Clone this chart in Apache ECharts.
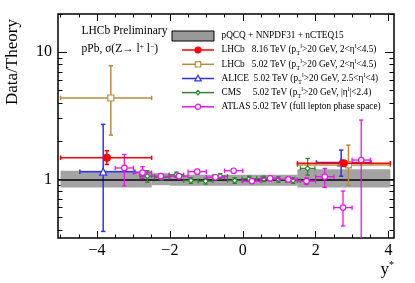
<!DOCTYPE html>
<html><head><meta charset="utf-8">
<script src="https://cdn.jsdelivr.net/npm/echarts@6/dist/echarts.min.js"></script>
<style>html,body{margin:0;padding:0;background:#fff}#c{width:415px;height:283px}</style>
</head><body><div id="c"></div>
<script>
// ---- axis ranges / ticks ----
const X_MIN = -5.07, X_MAX = 4.15;
const Y_MIN = 0.346, Y_MAX = 20;
const xTickLabels = [-4, -2, 0, 2, 4];
const xMinorTicks = [-5, -4.5, -3.5, -3, -2.5, -1.5, -1, -0.5, 0.5, 1, 1.5, 2.5, 3, 3.5];
const yTickLabels = [1, 10];
const yMinorTicks = [0.4, 0.5, 0.6, 0.7, 0.8, 0.9, 2, 3, 4, 5, 6, 7, 8, 9, 20];

// ---- theory band: [x0, x1, lo, hi] ----
const theoryBand = [
  [-5.0, -2.5, 0.865, 1.17],
  [-2.5, -2.0, 0.90, 1.12],
  [-2.0, 1.5, 0.89, 1.09],
  [1.5, 4.05, 0.865, 1.20]
];
// ---- data rows: [x, y, xlo, xhi, ylo, yhi] ----
const lhcb816 = [
  [-3.73, 1.48, -5.0, -2.5, 1.31, 1.68],
  [2.77, 1.34, 1.5, 4.05, 1.27, 1.40]
];
const lhcb502 = [
  [-3.62, 4.37, -5.0, -2.5, 2.23, 7.84],
  [2.90, 1.30, 1.5, 4.05, 0.90, 1.86]
];
const alice = [
  [-3.83, 1.15, -4.47, -2.96, 0.39, 2.71],
  [2.70, 1.36, 2.02, 3.52, 1.06, 1.70]
];
const cms = [
  [-2.62, 1.06, -2.82, -2.42, 0.95, 1.17],
  [-2.22, 1.04, -2.42, -2.02, 0.99, 1.09],
  [-1.82, 1.09, -2.02, -1.62, 1.04, 1.14],
  [-1.42, 0.98, -1.62, -1.22, 0.93, 1.03],
  [-1.02, 0.97, -1.22, -0.82, 0.92, 1.02],
  [-0.62, 1.06, -0.82, -0.42, 1.01, 1.11],
  [-0.22, 0.98, -0.42, -0.02, 0.93, 1.03],
  [0.18, 1.01, -0.02, 0.38, 0.96, 1.06],
  [0.58, 1.01, 0.38, 0.78, 0.96, 1.06],
  [0.98, 1.00, 0.78, 1.18, 0.95, 1.05],
  [1.38, 0.98, 1.18, 1.58, 0.93, 1.03],
  [1.78, 1.22, 1.58, 1.98, 1.08, 1.46]
];
const atlas = [
  [-3.25, 1.23, -3.5, -3.0, 0.89, 1.57],
  [-2.75, 1.13, -3.0, -2.5, 1.02, 1.26],
  [-2.25, 1.06, -2.5, -2.0, 1.01, 1.11],
  [-1.75, 1.06, -2.0, -1.5, 1.02, 1.10],
  [-1.25, 1.15, -1.5, -1.0, 1.11, 1.19],
  [-0.75, 1.04, -1.0, -0.5, 1.00, 1.08],
  [-0.25, 1.17, -0.5, 0.0, 1.13, 1.21],
  [0.25, 0.97, 0.0, 0.5, 0.93, 1.01],
  [0.75, 1.02, 0.5, 1.0, 0.98, 1.06],
  [1.25, 1.00, 1.0, 1.5, 0.96, 1.04],
  [1.75, 0.97, 1.5, 2.0, 0.91, 1.03],
  [2.25, 1.05, 2.0, 2.5, 0.865, 1.22],
  [2.75, 0.60, 2.5, 3.0, 0.43, 0.81],
  [3.25, 1.42, 3.0, 3.5, 0.30, 2.93]
];

const SERIF = '"Liberation Serif", "DejaVu Serif", serif';
const C_RED = '#ff0000', C_BRN = '#b98c3d', C_BLU = '#3030ff', C_GRN = '#2c862c', C_MAG = '#ee11ee', C_BAND = '#a3a3a3';

function mkX(pos, ticks, len, labels) {
  return {
    type: 'value', min: X_MIN, max: X_MAX, position: pos,
    splitLine: {show: false}, axisLine: {show: false, onZero: false},
    axisTick: {show: true, inside: true, length: len, customValues: ticks, lineStyle: {color: '#000', width: 1}},
    axisLabel: {show: labels, customValues: xTickLabels, margin: 5,
      formatter: v => (v < 0 ? '\u2212' + Math.abs(v) : String(v)),
      fontFamily: SERIF, fontSize: 16, color: '#000'}
  };
}
function mkY(pos, ticks, len, labels) {
  return {
    type: 'log', logBase: 10, min: Y_MIN, max: Y_MAX, position: pos,
    splitLine: {show: false}, axisLine: {show: false, onZero: false},
    axisTick: {show: true, inside: true, length: len, customValues: ticks, lineStyle: {color: '#000', width: 1}},
    axisLabel: {show: labels, customValues: yTickLabels, margin: 6,
      fontFamily: SERIF, fontSize: 16, color: '#000'}
  };
}

function errRender(color, lw) {
  return function (params, api) {
    const x = api.value(0), y = api.value(1);
    const c = api.coord([x, y]);
    const xl = api.coord([api.value(2), y])[0], xh = api.coord([api.value(3), y])[0];
    const yl = api.coord([x, api.value(4)])[1], yh = api.coord([x, api.value(5)])[1];
    const st = {stroke: color, lineWidth: lw};
    const cap = 2.2;
    const L = (x1, y1, x2, y2) => ({type: 'line', shape: {x1, y1, x2, y2}, style: st});
    return {type: 'group', children: [
      L(xl, c[1], xh, c[1]),
      L(c[0], yl, c[0], yh),
      L(xl, c[1] - cap, xl, c[1] + cap),
      L(xh, c[1] - cap, xh, c[1] + cap),
      L(c[0] - cap, yl, c[0] + cap, yl),
      L(c[0] - cap, yh, c[0] + cap, yh)
    ]};
  };
}
function errSeries(data, color, lw, z) {
  return {type: 'custom', data: data, renderItem: errRender(color, lw), clip: true, z: z, silent: true,
    encode: {x: [0, 2, 3], y: [1, 4, 5]}};
}
function markSeries(data, color, symbol, size, filled, z) {
  return {type: 'scatter', data: data.map(r => [r[0], r[1]]), symbol: symbol, symbolSize: size, z: z + 1, silent: true,
    itemStyle: {color: filled ? color : '#fff', borderColor: color, borderWidth: 1.2, opacity: 1}};
}

const legendRows = [
  {y: 50, color: C_RED, text: 'LHCb   8.16 TeV (p{b|T}{t|l}>20 GeV, 2<\u03b7{t|l}<4.5)'},
  {y: 64.3, color: C_BRN, text: 'LHCb   5.02 TeV (p{b|T}{t|l}>20 GeV, 2<\u03b7{t|l}<4.5)'},
  {y: 78.5, color: C_BLU, text: 'ALICE  5.02 TeV (p{b|T}{t|l}>20 GeV, 2.5<\u03b7{t|l}<4)'},
  {y: 92.6, color: C_GRN, text: 'CMS     5.02 TeV (p{b|T}{t|l}>20 GeV, |\u03b7{t|l}|<2.4)'},
  {y: 106.8, color: C_MAG, text: 'ATLAS 5.02 TeV (full lepton phase space)'}
];
const legRich = {t: {fontSize: 6.5, fontFamily: SERIF, verticalAlign: 'top', lineHeight: 10}, b: {fontSize: 6.5, fontFamily: SERIF, verticalAlign: 'bottom', lineHeight: 14}};
const graphics = [];
graphics.push({type: 'rect', shape: {x: 172, y: 31, width: 42, height: 10}, style: {fill: '#999', stroke: '#000', lineWidth: 1}});
graphics.push({type: 'text', x: 221.5, y: 36, style: {text: 'pQCQ + NNPDF31 + nCTEQ15', font: '9.3px ' + SERIF, fill: '#000', align: 'left', verticalAlign: 'middle'}});
const markerShapes = [
  {type: 'circle', shape: {cx: 198, cy: 0, r: 3}, filled: true},
  {type: 'rect', shape: {x: 195.3, y: -2.7, width: 5.4, height: 5.4}},
  {type: 'polygon', shape: {points: [[198, -3.2], [201.2, 2.4], [194.8, 2.4]]}},
  {type: 'polygon', shape: {points: [[198, -2.2], [200, 0], [198, 2.2], [196, 0]]}},
  {type: 'circle', shape: {cx: 198, cy: 0, r: 2.6}}
];
legendRows.forEach((r, i) => {
  graphics.push({type: 'line', x: 0, y: 0, shape: {x1: 182, y1: r.y, x2: 214, y2: r.y}, style: {stroke: r.color, lineWidth: 1.5}});
  const m = markerShapes[i];
  graphics.push({type: m.type, x: 0, y: r.y, shape: m.shape, style: {fill: m.filled ? r.color : '#fff', stroke: r.color, lineWidth: 1.2}});
  graphics.push({type: 'text', x: 221.5, y: r.y, style: {text: r.text, rich: legRich, fontSize: 9.3, fontFamily: SERIF, fill: '#000', align: 'left', verticalAlign: 'middle'}});
});
graphics.push({type: 'text', x: 81.5, y: 31, style: {text: 'LHCb Preliminary', font: '11.5px ' + SERIF, fill: '#000', verticalAlign: 'middle'}});
graphics.push({type: 'text', x: 81.5, y: 49, style: {text: 'pPb, \u03c3(Z\u2192 l{s|+} l{s|\u2212})', fontSize: 11.5, fontFamily: SERIF, fill: '#000', verticalAlign: 'middle',
  rich: {s: {fontSize: 7.5, fontFamily: SERIF, verticalAlign: 'top', lineHeight: 12}}}});
graphics.push({type: 'text', x: 13, y: 62, rotation: Math.PI / 2, style: {text: 'Data/Theory', font: '17px ' + SERIF, fill: '#000', align: 'center', verticalAlign: 'middle'}});
graphics.push({type: 'text', x: 394, y: 270, style: {text: 'y{s|*}', fontSize: 17, fontFamily: SERIF, fill: '#000', align: 'right', verticalAlign: 'middle',
  rich: {s: {fontSize: 10, fontFamily: SERIF, verticalAlign: 'top', lineHeight: 20}}}});

const option = {
  animation: false,
  grid: {left: 58, right: 21, top: 14, bottom: 45, show: true, borderColor: '#000', borderWidth: 1.5, backgroundColor: 'transparent', containLabel: false},
  xAxis: [
    mkX('bottom', xTickLabels, 7, true),
    mkX('bottom', xMinorTicks, 3.5, false),
    mkX('top', xTickLabels, 7, false),
    mkX('top', xMinorTicks, 3.5, false)
  ],
  yAxis: [
    mkY('left', yTickLabels, 9, true),
    mkY('left', yMinorTicks, 4.5, false),
    mkY('right', yTickLabels, 9, false),
    mkY('right', yMinorTicks, 4.5, false)
  ],
  graphic: graphics,
  series: [
    {type: 'custom', data: theoryBand, clip: true, z: 1, silent: true,
      encode: {x: [0, 1], y: [2, 3]},
      renderItem: (p, api) => {
        const a = api.coord([api.value(0), api.value(3)]);
        const b = api.coord([api.value(1), api.value(2)]);
        return {type: 'rect', shape: {x: a[0], y: a[1], width: b[0] - a[0], height: b[1] - a[1]}, style: {fill: C_BAND}};
      }},
    {type: 'scatter', data: [], z: 2, silent: true,
      markLine: {silent: true, symbol: 'none', label: {show: false}, animation: false,
        lineStyle: {color: '#000', width: 1.5, type: 'solid'}, data: [{yAxis: 1}]}},
    errSeries(alice, C_BLU, 1.5, 3), markSeries(alice, C_BLU, 'triangle', 7, false, 3),
    errSeries(lhcb502, C_BRN, 1.5, 5), markSeries(lhcb502, C_BRN, 'rect', 6, false, 5),
    errSeries(cms, C_GRN, 1.3, 7), markSeries(cms, C_GRN, 'diamond', 5, false, 7),
    errSeries(atlas, C_MAG, 1.3, 9), markSeries(atlas, C_MAG, 'circle', 5.5, false, 9),
    errSeries(lhcb816, C_RED, 1.5, 11), markSeries(lhcb816, C_RED, 'circle', 7, true, 11)
  ]
};
const chart = echarts.init(document.getElementById('c'), null, {renderer: 'canvas'});
chart.setOption(option);
</script>
</body></html>
